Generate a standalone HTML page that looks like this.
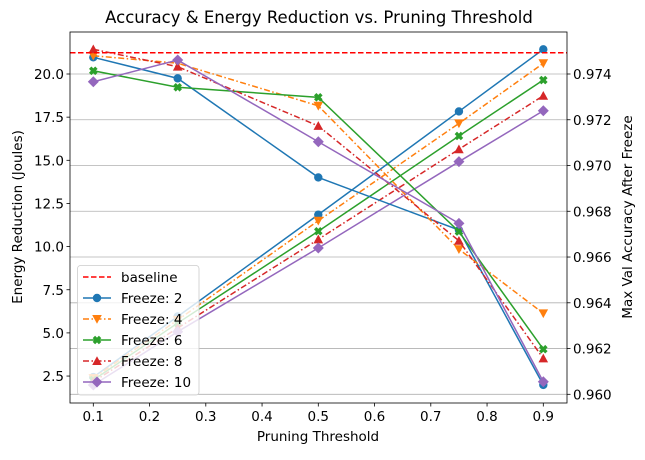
<!DOCTYPE html>
<html><head><meta charset="utf-8"><style>
body{margin:0;background:#fff;}
svg text{font-family:"DejaVu Sans","Liberation Sans",sans-serif;fill:#000;}
</style></head><body>
<svg id="chart" width="645" height="455" xmlns="http://www.w3.org/2000/svg">
<g id="grid"></g><g id="series"></g><g id="axes"></g><g id="legend"></g>
</svg>
<script>
const thresholds=[0.1,0.25,0.5,0.75,0.9];
const seriesNames=["Freeze: 2","Freeze: 4","Freeze: 6","Freeze: 8","Freeze: 10"];
const energyF2=[2.44,5.95,11.85,17.83,21.43];
const energyF4=[2.38,5.75,11.5,17.14,20.62];
const energyF6=[2.27,5.57,10.89,16.41,19.65];
const energyF8=[2.17,5.28,10.42,15.64,18.74];
const energyF10=[1.98,5.07,9.92,14.92,17.87];
const accF2=[0.97473,0.97381,0.96948,0.96718,0.96041];
const accF4=[0.9748,0.97447,0.97261,0.96634,0.96354];
const accF6=[0.97414,0.97342,0.97298,0.96711,0.96197];
const accF8=[0.97508,0.97432,0.97173,0.96671,0.96157];
const accF10=[0.97366,0.97461,0.97104,0.96747,0.96055];
const baselineAcc=0.97493;
const xTicks=[0.1,0.2,0.3,0.4,0.5,0.6,0.7,0.8,0.9];
const yLeftTicks=[2.5,5.0,7.5,10.0,12.5,15.0,17.5,20.0];
const yRightTicks=[0.960,0.962,0.964,0.966,0.968,0.970,0.972,0.974];

const NS="http://www.w3.org/2000/svg";
const L=70,R=567,T=32,B=403;
const xs=v=>93.3+(v-0.1)*562.5;
const yl=v=>74-(v-20)*17.26;
const yr=v=>74-(v-0.974)*22879;
function mk(tag,attrs,parent){const e=document.createElementNS(NS,tag);for(const k in attrs)e.setAttribute(k,attrs[k]);parent.appendChild(e);return e;}
const grid=document.getElementById('grid'),ser=document.getElementById('series'),ax=document.getElementById('axes'),leg=document.getElementById('legend');

yRightTicks.forEach(t=>{const g=mk('line',{x1:L,x2:R,y1:yr(t),y2:yr(t),stroke:'#b0b0b0','stroke-width':0.8},grid);

});

const colors=['#1f77b4','#ff7f0e','#2ca02c','#d62728','#9467bd'];
const dashes=['','6,2.5,1.5,2.5','','6,2.5,1.5,2.5',''];
const markers=['circle','tridown','x','triup','diamond'];
const energy=[energyF2,energyF4,energyF6,energyF8,energyF10];
const acc=[accF2,accF4,accF6,accF8,accF10];

function marker(type,x,y,c,parent){
  let e;
  if(type==='circle')e=mk('circle',{cx:x,cy:y,r:4.2,fill:c},parent);
  else if(type==='tridown')e=mk('polygon',{points:`${x-4.8},${y-4} ${x+4.8},${y-4} ${x},${y+4.8}`,fill:c},parent);
  else if(type==='triup')e=mk('polygon',{points:`${x-4.8},${y+4} ${x+4.8},${y+4} ${x},${y-4.8}`,fill:c},parent);
  else if(type==='diamond')e=mk('polygon',{points:`${x},${y-5.5} ${x+5.5},${y} ${x},${y+5.5} ${x-5.5},${y}`,fill:c},parent);
  else {const a=4.3,b=2.4;e=mk('polygon',{points:`${x-a},${y-a+b} ${x-a+b},${y-a} ${x},${y-b} ${x+a-b},${y-a} ${x+a},${y-a+b} ${x+b},${y} ${x+a},${y+a-b} ${x+a-b},${y+a} ${x},${y+b} ${x-a+b},${y+a} ${x-a},${y+a-b} ${x-b},${y}`,fill:c},parent);}
  return e;
}
function drawLine(vals,scale,i,kind){
  const pts=vals.map((v,j)=>xs(thresholds[j])+','+scale(v)).join(' ');
  const p=mk('polyline',{points:pts,fill:'none',stroke:colors[i],'stroke-width':1.5},ser);
  if(dashes[i])p.setAttribute('stroke-dasharray',dashes[i]);
  
  
  vals.forEach((v,j)=>{const m=marker(markers[i],xs(thresholds[j]),scale(v),colors[i],ser);
    
    });
}
energy.forEach((v,i)=>drawLine(v,yl,i,'energy'));
acc.forEach((v,i)=>drawLine(v,yr,i,'accuracy'));
const bl=mk('line',{x1:L,x2:R,y1:yr(baselineAcc),y2:yr(baselineAcc),stroke:'#ff0000','stroke-width':1.5,'stroke-dasharray':'5.5,2.5'},ser);



const fr=mk('rect',{x:L,y:T,width:R-L,height:B-T,fill:'none',stroke:'#000','stroke-width':0.8},ax);


function txt(s,attrs,name){const t=mk('text',attrs,ax);t.textContent=s;return t;}
xTicks.forEach(t=>{mk('line',{x1:xs(t),x2:xs(t),y1:B,y2:B+3.5,stroke:'#000','stroke-width':0.8},ax);
  txt(t.toFixed(1),{x:xs(t),y:B+18,'font-size':13.5,'text-anchor':'middle'},'x-tick-label');});
yLeftTicks.forEach(t=>{mk('line',{x1:L-3.5,x2:L,y1:yl(t),y2:yl(t),stroke:'#000','stroke-width':0.8},ax);
  txt(t.toFixed(1),{x:L-6,y:yl(t)+5,'font-size':13.5,'text-anchor':'end'},'y-left-tick-label');});
yRightTicks.forEach(t=>{mk('line',{x1:R,x2:R+3.5,y1:yr(t),y2:yr(t),stroke:'#000','stroke-width':0.8},ax);
  txt(t.toFixed(3),{x:R+6,y:yr(t)+5,'font-size':13.5},'y-right-tick-label');});
txt('Accuracy & Energy Reduction vs. Pruning Threshold',{x:319,y:23,'font-size':16.5,'text-anchor':'middle'},'chart-title');
txt('Pruning Threshold',{x:318,y:441,'font-size':13.5,'text-anchor':'middle'},'x-axis-title');
txt('Energy Reduction (Joules)',{x:0,y:0,'font-size':13.5,'text-anchor':'middle',transform:'translate(22,217) rotate(-90)'},'y-left-axis-title');
txt('Max Val Accuracy After Freeze',{x:0,y:0,'font-size':13.5,'text-anchor':'middle',transform:'translate(632,217) rotate(-90)'},'y-right-axis-title');

const lb=mk('rect',{x:77.5,y:265.5,width:121.5,height:129.5,rx:3,fill:'#fff','fill-opacity':0.8,stroke:'#ccc','stroke-width':0.8},leg);


const labels=['baseline'].concat(seriesNames);
labels.forEach((s,k)=>{
  const y=277+k*21;
  const g=mk('g',{},leg);
  
  
  if(k===0){mk('line',{x1:83,x2:111,y1:y,y2:y,stroke:'#ff0000','stroke-width':1.5,'stroke-dasharray':'5.5,2.5'},g);}
  else{const i=k-1;const l=mk('line',{x1:83,x2:111,y1:y,y2:y,stroke:colors[i],'stroke-width':1.5},g);
    if(dashes[i])l.setAttribute('stroke-dasharray',dashes[i]);
    marker(markers[i],97,y,colors[i],g);}
  const t=mk('text',{x:121,y:y+5,'font-size':13.5},g);t.textContent=s;
});
</script>
</body></html>
